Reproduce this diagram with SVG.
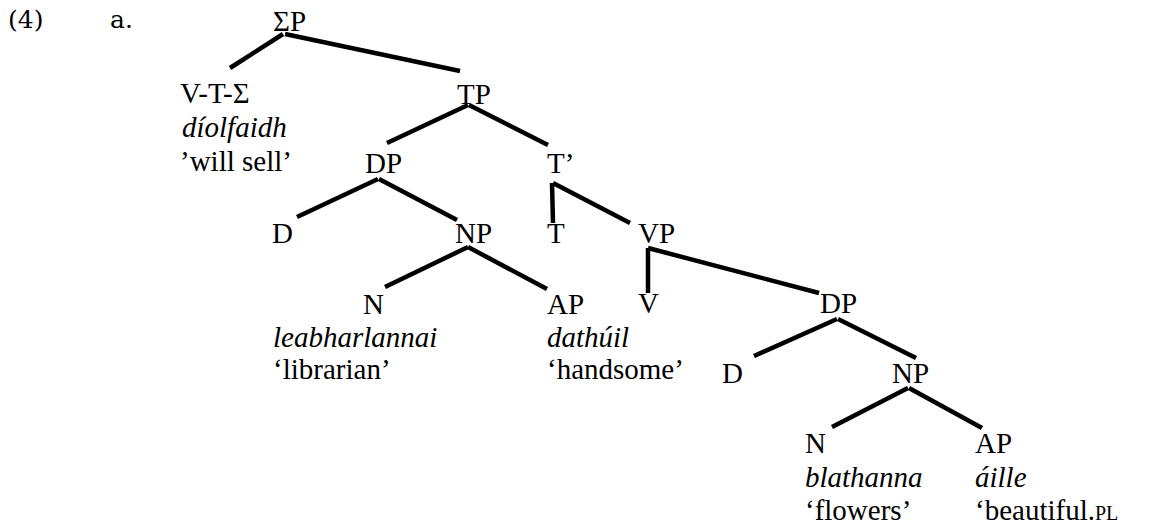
<svg xmlns="http://www.w3.org/2000/svg" width="1160" height="527" viewBox="0 0 1160 527">
<style>
.edge{stroke:#000;stroke-width:4.5;fill:none;stroke-linecap:butt}
</style>
<rect width="1160" height="527" fill="#fff"/>
<g id="example-label" font-family="DejaVu Serif, serif" font-size="25" fill="#000">
<text x="8" y="28">(4)</text>
<text x="110" y="28">a.</text>
</g>
<g id="connectors">
<line class="edge" x1="283" y1="34" x2="230" y2="68"/>
<line class="edge" x1="285" y1="34" x2="460" y2="71"/>
<line class="edge" x1="468" y1="105" x2="387" y2="143"/>
<line class="edge" x1="469" y1="105" x2="548" y2="145"/>
<line class="edge" x1="378" y1="179" x2="297" y2="217"/>
<line class="edge" x1="379" y1="179" x2="457" y2="220"/>
<line class="edge" x1="552" y1="183" x2="553" y2="223"/>
<line class="edge" x1="553" y1="183" x2="630" y2="223"/>
<line class="edge" x1="468" y1="247" x2="385" y2="287"/>
<line class="edge" x1="468" y1="247" x2="547" y2="289"/>
<line class="edge" x1="648" y1="248" x2="648" y2="293"/>
<line class="edge" x1="648" y1="248" x2="819" y2="293"/>
<line class="edge" x1="837" y1="319" x2="754" y2="356"/>
<line class="edge" x1="838" y1="319" x2="916" y2="358"/>
<line class="edge" x1="908" y1="388" x2="832" y2="427"/>
<line class="edge" x1="909" y1="388" x2="982" y2="428"/>
</g>
<g id="tree" font-family="Liberation Serif, Times New Roman, serif" font-size="29" fill="#000">
<g id="SigmaP"><text x="273" y="31">ΣP</text></g>
<g id="VTSigma">
<text x="180" y="103">V-T-Σ</text>
<text x="182" y="137" font-style="italic">díolfaidh</text>
<text x="180" y="171">’will sell’</text>
</g>
<g id="TP"><text x="457" y="104">TP</text></g>
<g id="DP1"><text x="365" y="173">DP</text></g>
<g id="Tbar"><text x="547" y="173">T’</text></g>
<g id="D1"><text x="272" y="243">D</text></g>
<g id="NP1"><text x="455" y="243">NP</text></g>
<g id="T"><text x="547" y="243">T</text></g>
<g id="VP"><text x="638" y="243">VP</text></g>
<g id="N1">
<text x="363" y="314">N</text>
<text x="273" y="347" font-style="italic">leabharlannai</text>
<text x="273" y="379">‘librarian’</text>
</g>
<g id="AP1">
<text x="547" y="314">AP</text>
<text x="547" y="347" font-style="italic">dathúil</text>
<text x="547" y="379">‘handsome’</text>
</g>
<g id="V"><text x="638" y="313">V</text></g>
<g id="DP2"><text x="820" y="313">DP</text></g>
<g id="D2"><text x="722" y="383">D</text></g>
<g id="NP2"><text x="892" y="383">NP</text></g>
<g id="N2">
<text x="805" y="453">N</text>
<text x="805" y="487" font-style="italic">blathanna</text>
<text x="805" y="520">‘flowers’</text>
</g>
<g id="AP2">
<text x="975" y="453">AP</text>
<text x="975" y="487" font-style="italic">áille</text>
<text x="975" y="520">‘beautiful.<tspan font-size="20">PL</tspan></text>
</g>
</g>
</svg>
